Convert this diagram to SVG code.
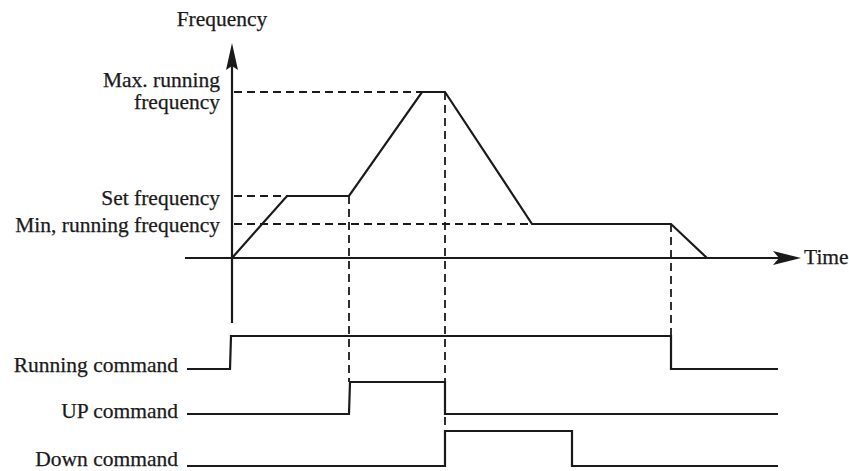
<svg xmlns="http://www.w3.org/2000/svg" width="849" height="471" viewBox="0 0 849 471">
<style>
.t{font-family:"Liberation Serif","Times New Roman",serif;font-size:21.5px;fill:#1a1a1a;stroke:#1a1a1a;stroke-width:0.25}
.r{text-anchor:end}
.s{fill:none;stroke:#1a1a1a;stroke-width:2.2}
.d{fill:none;stroke:#1a1a1a;stroke-width:1.8;stroke-dasharray:8 5}
.a{fill:#1a1a1a}
</style>
<rect width="849" height="471" fill="#fff"/>
<g id="axes">
<line class="s" x1="232" y1="323" x2="232" y2="60"/>
<path class="a" d="M232,43 L238,70 L232,66 L226,70 Z"/>
<line class="s" x1="185" y1="258" x2="780" y2="258"/>
<path class="a" d="M801,258 L773,251 L779,258 L773,265 Z"/>
</g>
<g id="labels">
<text class="t" x="222" y="26" text-anchor="middle">Frequency</text>
<text class="t r" x="220" y="87">Max. running</text>
<text class="t r" x="220" y="109">frequency</text>
<text class="t r" x="220" y="205">Set frequency</text>
<text class="t r" x="220" y="232">Min, running frequency</text>
<text class="t" x="804" y="264">Time</text>
<text class="t r" x="178" y="372">Running command</text>
<text class="t r" x="178" y="418">UP command</text>
<text class="t r" x="178" y="466">Down command</text>
</g>
<g id="connectors">
<line class="d" x1="234" y1="92" x2="422" y2="92"/>
<line class="d" x1="234" y1="196" x2="287" y2="196"/>
<line class="d" x1="234" y1="224" x2="532" y2="224"/>
<line class="d" x1="349" y1="196" x2="349" y2="382"/>
<line class="d" x1="445" y1="92" x2="445" y2="431"/>
<line class="d" x1="671" y1="224" x2="671" y2="336"/>
</g>
<g id="frequency-curve">
<polyline class="s" points="232,258 287,196 349,196 422,92 445,92 532,224 671,224 707,258"/>
</g>
<g id="running-command">
<polyline class="s" points="187,369 230,369 231,336 671,336 671,369 778,369"/>
</g>
<g id="up-command">
<polyline class="s" points="187,414 349,414 350,382 445,382 445,414 778,414"/>
</g>
<g id="down-command">
<polyline class="s" points="187,466 445,466 445,431 572,431 572,466 778,466"/>
</g>
</svg>
